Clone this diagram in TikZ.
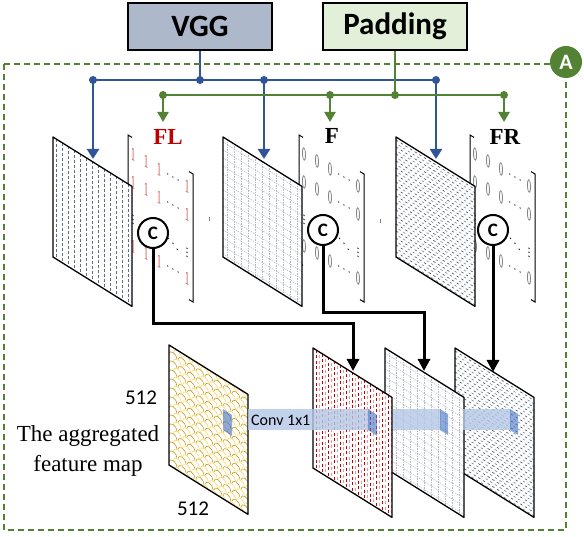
\documentclass[tikz,border=0pt]{standalone}
\usepackage{fontspec}
\setmainfont{Liberation Serif}
\newfontfamily\calibri{Carlito}
\usepackage{tikz}
\usetikzlibrary{arrows.meta, positioning}
\definecolor{vggcolor}{RGB}{173, 185, 202}
\definecolor{padcolor}{RGB}{226, 240, 217}
\definecolor{busblue}{RGB}{47, 85, 151}
\definecolor{busgreen}{RGB}{84, 130, 53}
\definecolor{flred}{RGB}{192, 0, 0}
\definecolor{convcolor}{RGB}{180, 199, 231}
\definecolor{kernelcolor}{RGB}{68, 114, 196}
\definecolor{mapgold}{RGB}{191, 144, 0}
\definecolor{maporange}{RGB}{255, 192, 0}
\definecolor{mapdark}{RGB}{68, 84, 106}

% a sheared feature map: top-left x, y, pattern
\newcommand{\fmap}[3]{%
  \begin{scope}[shift={(#1,#2)}, yslant=-0.625]
    \fill[white] (0,0) rectangle (79,120);
    \begin{scope}
      \clip (0,0) rectangle (79,120);
      #3
    \end{scope}
    \draw[map edge] (0,0) rectangle (79,120);
  \end{scope}}

% a sheared matrix: top-left x, y, entry, entry colour
\newcommand{\fmat}[4]{%
  \begin{scope}[shift={(#1,#2)}, yslant=-0.6]
    \draw[mat bracket] (4,0) -- (0,0) -- (0,128) -- (4,128);
    \draw[mat bracket] (61,0) -- (65,0) -- (65,128) -- (61,128);
    \foreach \y in {16,44,108} {
      \foreach \x in {5,18,31,59} \node[mat entry, text=#4] at (\x,\y) {#3};
      \node[mat dots] at (45,\y) {$\cdots$};
    }
    \foreach \x in {5,59} \node[mat dots] at (\x,79) {$\vdots$};
    \node[mat dots] at (45,79) {$\ddots$};
  \end{scope}}

% patterns
\newcommand{\patvdash}{\foreach \i in {3,9,...,78} \draw[mapdark!85, line width=0.7pt, dash pattern=on 3pt off 2pt] (\i,0) -- (\i,120);}
\newcommand{\patgrid}{%
  \foreach \i in {4,11,...,79} \draw[mapdark!40, line width=0.5pt, dash pattern=on 1.5pt off 1pt] (\i,0) -- (\i,120);
  \foreach \j in {5,13,...,120} \draw[mapdark!40, line width=0.5pt, dash pattern=on 1.5pt off 1pt] (0,\j) -- (79,\j);}
\newcommand{\patdiag}{%
  \foreach \j in {3,10,...,123} \draw[mapdark, line width=0.6pt, dash pattern=on 2.5pt off 3pt] (0,\j) -- (79,\j);
  \foreach \j in {6.5,13.5,...,123} \draw[mapdark!70, line width=0.6pt, dash pattern=on 2.5pt off 3pt, dash phase=2.5pt] (0,\j) -- (79,\j);}
\newcommand{\patred}{%
  \foreach \i in {3,9,...,78} \draw[flred, line width=0.7pt, dash pattern=on 3pt off 2.5pt] (\i,0) -- (\i,120);
  \foreach \i in {6,12,...,78} \draw[flred!40, line width=0.7pt, dash pattern=on 3pt off 2.5pt, dash phase=2pt] (\i,0) -- (\i,120);}
\newcommand{\patscale}{%
  \foreach \j in {0,9,...,130} {
    \foreach \i in {0,9,...,81} {
      \draw[mapgold, line width=0.5pt] (\i,\j) arc[start angle=180, end angle=360, radius=4];
      \draw[maporange!70, line width=0.5pt] (\i+4.5,\j+4.5) arc[start angle=180, end angle=360, radius=4];
    }
  }}

\begin{document}
\begin{tikzpicture}[
    x=1pt, y=-1pt,
    box/.style={draw, line width=2pt, minimum width=144pt, minimum height=47pt, inner sep=0pt, font=\calibri\bfseries\fontsize{31}{32}\selectfont},
    bus/.style={line width=2.4pt},
    junction/.style={circle, fill, inner sep=0pt, minimum size=8pt},
    blue arrow/.style={bus, busblue, -{Triangle[width=12pt, length=10pt]}},
    green arrow/.style={bus, busgreen, -{Triangle[width=11pt, length=10pt]}},
    flow/.style={line width=3pt, -{Triangle[width=12pt, length=12pt]}},
    ccircle/.style={circle, draw, line width=2pt, fill=white, minimum size=30pt, inner sep=0pt, font=\calibri\bfseries\fontsize{19}{19}\selectfont},
    maplabel/.style={font=\bfseries\fontsize{23}{23}\selectfont, inner sep=0pt},
    map edge/.style={line width=1.3pt, line join=round},
    mat bracket/.style={line width=1pt},
    mat entry/.style={transform shape, xscale=0.42, font=\fontsize{19}{19}\selectfont, inner sep=0pt},
    mat dots/.style={transform shape, font=\fontsize{12}{12}\selectfont, inner sep=0pt},
    conv band/.style={fill=convcolor, fill opacity=0.8},
    kernel/.style={fill=kernelcolor, fill opacity=0.6},
    dimtext/.style={font=\calibri\fontsize{21}{21}\selectfont}
]
    \useasboundingbox (0,0) rectangle (584,537);

    % Input matrices
    \fmat{128}{135}{1}{flred!75}
    \fmat{299}{135}{0}{black!70}
    \fmat{470}{135}{0}{black!70}
    \draw[gray] (209,217) -- (209,221);
    \draw[gray] (380,219) -- (380,223);

    % VGG feature maps
    \fmap{53}{137}{\patvdash}
    \fmap{223}{137}{\patgrid}
    \fmap{396}{137}{\patdiag}

    % Labels and concatenations
    \node[maplabel, text=flred] (fl) at (168,137) {FL};
    \node[maplabel] (f) at (332,136) {F};
    \node[maplabel] (fr) at (505,137) {FR};
    \node[ccircle] (cfl) at (153,233) {C};
    \node[ccircle] (cf) at (323,230) {C};
    \node[ccircle] (cfr) at (493,230) {C};

    % Top boxes
    \node[box, fill=vggcolor] (vgg) at (200,26.5) {VGG};
    \node[box, fill=padcolor] (pad) at (395,26.5) {Padding};

    % VGG bus
    \node[junction, busblue] (bj) at (200,80) {};
    \node[junction, busblue] (b1) at (93,80) {};
    \node[junction, busblue] (b2) at (264,80) {};
    \node[junction, busblue] (b3) at (436,80) {};
    \coordinate (t1) at (93,159);
    \coordinate (t2) at (264,159);
    \coordinate (t3) at (436,159);
    \draw[bus, busblue] (vgg.south) -- (bj.center);
    \draw[bus, busblue] (b1.center) -- (b3.center);
    \draw[blue arrow] (b1.center) -- (t1);
    \draw[blue arrow] (b2.center) -- (t2);
    \draw[blue arrow] (b3.center) -- (t3);

    % Padding bus
    \node[junction, busgreen] (gj) at (395,95) {};
    \node[junction, busgreen] (g1) at (163,95) {};
    \node[junction, busgreen] (g2) at (330,95) {};
    \node[junction, busgreen] (g3) at (504,95) {};
    \coordinate (a1) at (163,122);
    \coordinate (a2) at (330,122);
    \coordinate (a3) at (504,122);
    \draw[bus, busgreen] (pad.south) -- (gj.center);
    \draw[bus, busgreen] (g1.center) -- (g3.center);
    \draw[green arrow] (g1.center) -- (a1);
    \draw[green arrow] (g2.center) -- (a2);
    \draw[green arrow] (g3.center) -- (a3);

    % Output feature maps
    \fmap{455}{348}{\patdiag}
    \fmap{385}{348}{\patgrid}
    \fmap{313}{348}{\patred}
    \fmap{169}{345}{\patscale}

    % Conv 1x1
    \fill[kernel] (223,409) -- (232,415) -- (232,436) -- (223,430) -- cycle;
    \fill[conv band] (248,409) rectangle (370,430);
    \fill[kernel] (368,409) -- (377,415) -- (377,436) -- (368,430) -- cycle;
    \fill[conv band] (393,409) rectangle (441,430);
    \fill[kernel] (440,409) -- (448,414) -- (448,435) -- (440,430) -- cycle;
    \fill[conv band] (463,409) rectangle (511,430);
    \fill[kernel] (510,409) -- (518,414) -- (518,435) -- (510,430) -- cycle;
    \node[anchor=west, inner sep=0pt, font=\calibri\fontsize{16}{16}\selectfont] (conv) at (251,420) {Conv 1x1};

    % Flows to the output maps
    \coordinate (k1) at (353,324);
    \coordinate (k2) at (424,313);
    \coordinate (rtop) at (353,371);
    \coordinate (gtop) at (424,371);
    \coordinate (dtop) at (493,372);
    \draw[flow] (cfl.south) |- (k1) -- (rtop);
    \draw[flow] (cf.south) |- (k2) -- (gtop);
    \draw[flow] (cfr.south) -- (dtop);

    % Texts
    \node[dimtext] (dim1) at (141,398) {512};
    \node[dimtext] (dim2) at (193,509) {512};
    \node[align=center, font=\fontsize{23}{30}\selectfont] (agg) at (88,451) {The aggregated\\feature map};

    % Module frame
    \draw[busgreen, line width=1.8pt, dash pattern=on 6pt off 4pt] (4,64) rectangle (566,530);
    \node[circle, fill=busgreen, text=white, minimum size=32pt, inner sep=0pt, font=\calibri\bfseries\fontsize{22}{22}\selectfont] (mark) at (566,62) {A};

\end{tikzpicture}
\end{document}
